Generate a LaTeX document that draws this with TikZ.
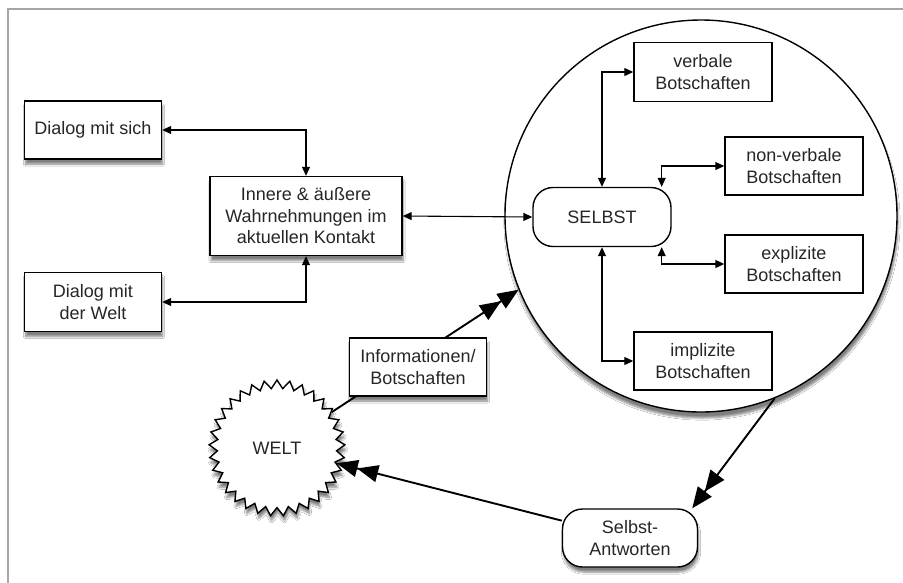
\documentclass[tikz,border=0pt]{standalone}
\usepackage{fontspec}
\setmainfont{Liberation Sans}
\usetikzlibrary{arrows.meta,shapes.geometric,shadows.blur}
\tikzset{
  box/.style={draw, line width=1.4pt, fill=white, align=center, inner sep=0pt, text=black!85},
  sbox/.style={box, blur shadow={shadow xshift=1pt, shadow yshift=-5pt, shadow blur steps=6, shadow opacity=50}},
  conn/.style={line width=1.1pt, {Triangle[length=9pt,width=8pt]}-{Triangle[length=9pt,width=8pt]}},
  bigconn/.style={line width=1.9pt, -{Triangle[length=21pt,width=17pt]Triangle[length=21pt,width=17pt]}},
  txt/.style={font=\fontsize{18}{21.5}\selectfont}
}
\begin{document}
\begin{tikzpicture}[x=1pt,y=-1pt,txt]
\useasboundingbox (0,0) rectangle (903,582);
\fill[white] (0,0) rectangle (903,582);
\draw[gray!70, line width=2pt] (904,9) -- (8,9) -- (8,583);

% circle
\node[draw, line width=1.4pt, circle, minimum size=392pt, fill=white, inner sep=0pt,
  blur shadow={shadow xshift=1pt, shadow yshift=-6pt, shadow blur steps=6, shadow opacity=50}] (circ) at (701,216) {};

\node[sbox, minimum width=137pt, minimum height=58pt] (dms) at (93,130) {Dialog mit sich};
\node[sbox, minimum width=192pt, minimum height=79pt] (inn) at (306,216) {Innere \& äußere\\Wahrnehmungen im\\aktuellen Kontakt};
\node[sbox, minimum width=137pt, minimum height=59pt] (dmw) at (93,302) {Dialog mit\\der Welt};

\node[box, rounded corners=20pt, minimum width=138pt, minimum height=59pt] (self) at (602,217) {SELBST};
\node[box, minimum width=138pt, minimum height=59pt] (verb) at (703,72) {verbale\\Botschaften};
\node[box, minimum width=138pt, minimum height=58pt] (nonv) at (794,166) {non-verbale\\Botschaften};
\node[box, minimum width=138pt, minimum height=58pt] (expl) at (794,264) {explizite\\Botschaften};
\node[box, minimum width=138pt, minimum height=58pt] (impl) at (703,361) {implizite\\Botschaften};

\node[star, star points=33, star point ratio=1.14, minimum size=136pt, draw, line width=1.4pt, fill=white, inner sep=0pt,
  blur shadow={shadow xshift=1pt, shadow yshift=-5pt, shadow blur steps=6, shadow opacity=50}] (welt) at (277,448) {};
\node[text=black!85] at (welt) {WELT};

\node[sbox, rounded corners=20pt, minimum width=135pt, minimum height=58pt] (sant) at (630,538) {Selbst-\\Antworten};

% connectors
\draw[conn] (dms.east) -| (inn.north);
\draw[conn] (dmw.east) -| (inn.south);
\draw[conn] (inn.east) -- (self.west);
\draw[conn] (self.north) |- (verb.west);
\draw[conn] (self.south) |- (impl.west);
\draw[conn] ([xshift=-10pt]self.north east) |- (nonv.west);
\draw[conn] ([xshift=-10pt]self.south east) |- (expl.west);

\draw[bigconn] (welt) -- (circ.202.5);
\node[sbox, minimum width=137pt, minimum height=58pt] (info) at (418,367) {Informationen/\\Botschaften};
\draw[bigconn] (circ.292) -- ([xshift=-6pt]sant.north east);
\draw[bigconn] (sant) -- (welt);
\end{tikzpicture}
\end{document}
